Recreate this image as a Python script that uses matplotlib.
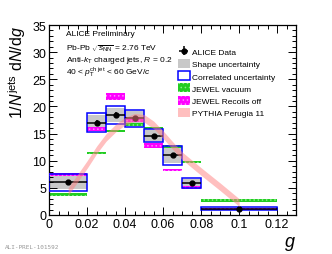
import matplotlib
matplotlib.use('Agg')
import matplotlib.pyplot as plt
from matplotlib.patches import Patch
from matplotlib.ticker import MultipleLocator

plt.rcParams['font.family'] = ['Liberation Sans', 'DejaVu Sans']
plt.rcParams['mathtext.fontset'] = 'custom'
plt.rcParams['mathtext.rm'] = 'Liberation Sans'
plt.rcParams['mathtext.it'] = 'Liberation Sans:italic'
plt.rcParams['mathtext.sf'] = 'Liberation Sans'
plt.rcParams['hatch.linewidth'] = 0.6

# bins in g
bin_lo = [0.00, 0.02, 0.03, 0.04, 0.05, 0.06, 0.07, 0.08]
bin_hi = [0.02, 0.03, 0.04, 0.05, 0.06, 0.07, 0.08, 0.12]

# ALICE data
data = [6.05, 17.0, 18.4, 17.8, 14.6, 11.0, 5.9, 1.15]
stat_err = [0.3, 0.5, 0.5, 0.4, 0.4, 0.4, 0.25, 0.1]
shape_unc = [1.3, 1.4, 1.3, 1.3, 1.0, 1.4, 0.8, 0.2]
corr_unc = [1.55, 1.7, 1.6, 1.6, 1.2, 1.7, 1.0, 0.25]

# JEWEL predictions
jewel_vac = [3.8, 11.4, 15.5, 16.7, 16.0, 12.6, 9.75, 2.65]
jewel_rec = [7.4, 15.8, 21.8, 17.4, 12.8, 8.3, 5.1, 1.1]
jewel_rec_h = [0.6, 0.8, 1.2, 0.6, 0.9, 0.5, 0.6, 0.3]

# PYTHIA Perugia 11 band
pythia_g = [0.010, 0.015, 0.020, 0.025, 0.030, 0.035, 0.040, 0.045, 0.050,
            0.055, 0.060, 0.065, 0.070, 0.080, 0.090, 0.100]
pythia_y = [4.3, 6.8, 9.3, 12.0, 14.3, 16.0, 17.3, 18.0, 17.8,
            16.6, 14.8, 12.8, 10.9, 8.0, 5.2, 2.3]
pythia_err = 0.7

width = [h - l for l, h in zip(bin_lo, bin_hi)]
centers = [(l + h) / 2 for l, h in zip(bin_lo, bin_hi)]
xerr = [w / 2 for w in width]

fig = plt.figure(figsize=(3.32, 2.55), dpi=100)
ax = fig.add_axes([0.148, 0.153, 0.744, 0.745])

# shape uncertainty (grey)
ax.bar(bin_lo, [2 * s for s in shape_unc], width=width, align='edge',
       bottom=[d - s for d, s in zip(data, shape_unc)], color='#c8c8c8',
       edgecolor='none', zorder=1)

# JEWEL vacuum (green)
ax.bar(bin_lo, 0.45, width=width, align='edge',
       bottom=[v - 0.22 for v in jewel_vac], color='#22cc22',
       edgecolor='#88ee88', hatch='....', lw=0, zorder=2)

# JEWEL recoils off (magenta)
ax.bar(bin_lo, jewel_rec_h, width=width, align='edge',
       bottom=[v - h / 2 for v, h in zip(jewel_rec, jewel_rec_h)],
       color='#ff00ff', edgecolor='#ff88ff', hatch='....', lw=0, zorder=3)

# correlated uncertainty (blue boxes)
ax.bar(bin_lo, [2 * c for c in corr_unc], width=width, align='edge',
       bottom=[d - c for d, c in zip(data, corr_unc)], facecolor='none',
       edgecolor='#0000ff', lw=1.1, zorder=4)

# data
eb = ax.errorbar(centers, data, xerr=xerr, yerr=stat_err, fmt='o',
                 color='black', ms=3.5, lw=1.1, capsize=0, zorder=5)

# PYTHIA band
ax.fill_between(pythia_g, [y - pythia_err for y in pythia_y],
                [y + pythia_err for y in pythia_y], color='#ff8080',
                alpha=0.5, lw=0, zorder=6)

ax.set_xlim(0, 0.13)
ax.set_ylim(0, 35)
ax.set_xticks([0, 0.02, 0.04, 0.06, 0.08, 0.1, 0.12])
ax.set_xticklabels(['0', '0.02', '0.04', '0.06', '0.08', '0.1', '0.12'])
ax.xaxis.set_minor_locator(MultipleLocator(0.005))
ax.yaxis.set_major_locator(MultipleLocator(5))
ax.yaxis.set_minor_locator(MultipleLocator(1))
ax.tick_params(which='both', direction='in', top=True, right=True,
               labelsize=9, width=0.7, pad=2)
ax.tick_params(which='major', length=6)
ax.tick_params(which='minor', length=3)
for sp in ax.spines.values():
    sp.set_linewidth(0.9)

# labels
fig.text(0.052, 0.898, r'1/$N^{\rm jets}$ d$N$/d$g$', rotation=90,
         ha='center', va='top', fontsize=11.5)
fig.text(0.873, 0.045, '$g$', ha='center', va='center', fontsize=13)
fig.text(0.015, 0.02, 'ALI-PREL-101592', ha='left', va='bottom',
         fontsize=4.3, color='#999999', family='DejaVu Sans Mono')

tx = 0.07
ax.text(tx, 0.953, 'ALICE Preliminary', transform=ax.transAxes,
        fontsize=6, va='center')
ax.text(tx, 0.884, r'Pb-Pb $\sqrt{s_{\rm NN}}$ = 2.76 TeV',
        transform=ax.transAxes, fontsize=6, va='center')
ax.text(tx, 0.816, r'Anti-$k_{\rm T}$ charged jets, $R$ = 0.2',
        transform=ax.transAxes, fontsize=6, va='center')
ax.text(tx, 0.756, r'40 < $p_{\rm T}^{\rm ch\ jet}$ < 60 GeV/$c$',
        transform=ax.transAxes, fontsize=6, va='center')

handles = [
    eb,
    Patch(facecolor='#c8c8c8', edgecolor='none'),
    Patch(facecolor='white', edgecolor='#0000ff', lw=1.1),
    Patch(facecolor='#22cc22', edgecolor='#88ee88', hatch='....', lw=0),
    Patch(facecolor='#ff00ff', edgecolor='#ff88ff', hatch='....', lw=0),
    Patch(facecolor='#ff8080', alpha=0.5, edgecolor='none'),
]
labels = ['ALICE Data', 'Shape uncertainty', 'Correlated uncertainty',
          'JEWEL vacuum', 'JEWEL Recoils off', 'PYTHIA Perugia 11']
ax.legend(handles, labels, loc='upper left', bbox_to_anchor=(0.52, 0.885),
          frameon=False, fontsize=6, handlelength=1.45, handleheight=1.3,
          labelspacing=0.34, handletextpad=0.3, borderpad=0, borderaxespad=0,
          numpoints=1)

fig.savefig('out.png', dpi=100)
